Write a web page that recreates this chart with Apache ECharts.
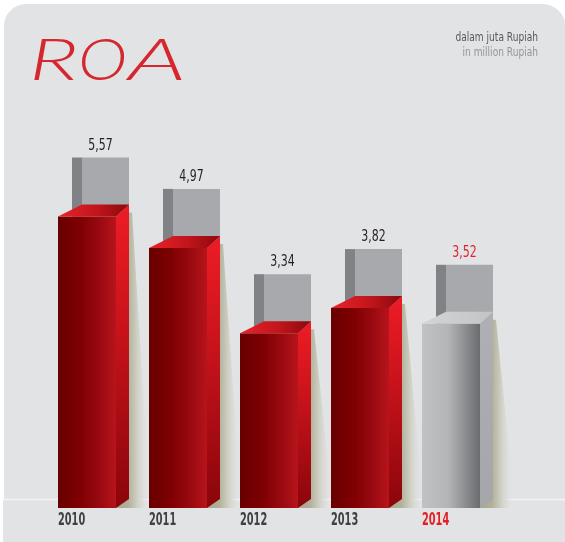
<!DOCTYPE html>
<html>
<head>
<meta charset="utf-8">
<script src="https://cdn.jsdelivr.net/npm/echarts@6/dist/echarts.min.js"></script>
<style>
  html, body { margin: 0; padding: 0; background: #ffffff; }
  #chart { width: 565px; height: 542px; }
</style>
</head>
<body>
<div id="chart"></div>
<script>
// ROA per year (in million Rupiah)
const years = ['2010', '2011', '2012', '2013', '2014'];
const roa = [5.57, 4.97, 3.34, 3.82, 3.52];
const currentYear = '2014';

const titleText = 'ROA';
const unitLines = ['dalam juta Rupiah', 'in million Rupiah'];

const NARROW = '"Liberation Sans Narrow", "Arial Narrow", "DejaVu Sans Condensed", sans-serif';

function fmt(v) {
  return v.toFixed(2).replace('.', ',');
}

function lin(x, y, x2, y2, stops) {
  return {
    type: 'linear', x: x, y: y, x2: x2, y2: y2,
    colorStops: stops.map(s => ({ offset: s[0], color: s[1] }))
  };
}

// Colour sets for the boxes: red for past years, silver for the current one
const RED = {
  front: lin(0, 0, 1, 0, [[0, '#680000'], [0.4, '#7f0002'], [0.75, '#9c0b11'], [1, '#b7141b']]),
  side: lin(0, 0, 0, 1, [[0, '#ee1c25'], [0.45, '#c4121a'], [1, '#8a050b']]),
  top: lin(0, 0, 1, 0, [[0, '#e8232a'], [0.55, '#c2151c'], [1, '#8a080d']])
};
const SILVER = {
  front: lin(0, 0, 1, 0, [[0, '#c1c2c4'], [0.45, '#b4b5b7'], [1, '#6b6c6f']]),
  side: lin(0, 0, 0, 1, [[0, '#aeb0b3'], [1, '#a4a6a9']]),
  top: lin(0, 0, 1, 0, [[0, '#d3d4d6'], [1, '#c3c4c6']])
};
const SHADOW = lin(0, 0, 1, 0, [[0, '#a8a890'], [0.36, '#b1b19b'], [0.62, '#cfcfc3'], [1, 'rgba(226,227,229,0)']]);

function renderBox(params, api) {
  const idx = api.value(0);
  const v = api.value(1);
  const topPt = api.coord([idx, v]);
  const basePt = api.coord([idx, 0]);
  const cx = topPt[0];
  const half = 29;
  const L = cx - half, R = cx + half, T = topPt[1], B = basePt[1];
  const cur = years[idx] === currentYear;
  const c = cur ? SILVER : RED;

  const children = [
    // cast shadow to the right
    { type: 'polygon', shape: { points: [[R + 13, T - 4], [R + 16, T - 4], [R + 34, B - 8], [R + 28, B], [R, B]] },
      style: { fill: SHADOW } },
    // back frame
    { type: 'rect', shape: { x: L + 14, y: T - 59, width: 10, height: 59 }, style: { fill: '#808285' } },
    { type: 'rect', shape: { x: L + 24, y: T - 59, width: R + 13 - (L + 24), height: 59 }, style: { fill: '#a7a9ac' } },
    // front face
    { type: 'rect', shape: { x: L, y: T, width: R - L, height: B - T }, style: { fill: c.front } },
    // side face
    { type: 'polygon', shape: { points: [[R, T], [R + 13, T - 12], [R + 13, B - 9], [R, B]] }, style: { fill: c.side } },
    // top face
    { type: 'polygon', shape: { points: [[L, T], [R, T], [R + 13, T - 12], [L + 24, T - 12]] }, style: { fill: c.top } },
    // value label
    { type: 'text', x: cx + 13.5, y: T - 71, scaleX: 0.76, style: {
        x: 0, y: 0, text: fmt(v), align: 'center', verticalAlign: 'middle',
        fill: cur ? '#e31e2d' : '#231f20', font: '16px ' + NARROW } },
    // year label
    { type: 'text', x: L, y: B + 13, scaleX: 0.64, style: {
        x: 0, y: 0, text: years[idx], align: 'left', verticalAlign: 'middle',
        fill: cur ? '#e31e24' : '#414042', font: 'bold 17px ' + NARROW } }
  ];
  return { type: 'group', children: children };
}

const chart = echarts.init(document.getElementById('chart'), null, { renderer: 'canvas' });

const TITLE_FONT = 'italic 300 58px Lato, "Open Sans", sans-serif';

chart.setOption({
  animation: false,
  backgroundColor: '#ffffff',
  graphic: [
    { type: 'rect', z: -10, shape: { x: 4, y: 4, width: 562, height: 496, r: [22, 24, 0, 0] }, style: { fill: '#e2e3e5' } },
    { type: 'rect', z: -10, shape: { x: 3, y: 500, width: 563, height: 42 }, style: { fill: '#e2e3e5' } },
    { type: 'line', z: -9, shape: { x1: 3, y1: 499.5, x2: 565, y2: 499.5 }, style: { stroke: '#f3f3f4', lineWidth: 1.5 } },
    { type: 'text', z: 10, x: 29, y: 61, scaleX: 1.5, style: { x: 0, y: 0, text: titleText[0], verticalAlign: 'middle',
        fill: '#d6262e', font: TITLE_FONT } },
    { type: 'text', z: 10, x: 78, y: 61, scaleX: 1.15, style: { x: 0, y: 0, text: titleText[1], verticalAlign: 'middle',
        fill: '#d6262e', font: TITLE_FONT } },
    { type: 'text', z: 10, x: 128, y: 61, scaleX: 1.65, style: { x: 0, y: 0, text: titleText[2], verticalAlign: 'middle',
        fill: '#d6262e', font: TITLE_FONT } },
    { type: 'text', z: 10, x: 538, y: 38, scaleX: 0.84, style: { x: 0, y: 0, text: unitLines[0], align: 'right',
        verticalAlign: 'middle', fill: '#58595b', font: '12px ' + NARROW } },
    { type: 'text', z: 10, x: 538, y: 53, scaleX: 0.84, style: { x: 0, y: 0, text: unitLines[1], align: 'right',
        verticalAlign: 'middle', fill: '#939598', font: '12px ' + NARROW } }
  ],
  grid: { left: 41.5, right: 68.5, top: 37, bottom: 34 },
  xAxis: {
    type: 'category', data: years, boundaryGap: true,
    axisLine: { show: false }, axisTick: { show: false }, axisLabel: { show: false }, splitLine: { show: false }
  },
  yAxis: {
    type: 'value', min: 0, max: 9,
    axisLine: { show: false }, axisTick: { show: false }, axisLabel: { show: false }, splitLine: { show: false }
  },
  series: [{
    type: 'custom',
    renderItem: renderBox,
    encode: { x: 0, y: 1 },
    data: roa.map((v, i) => [i, v]),
    clip: false
  }]
});
</script>
</body>
</html>
